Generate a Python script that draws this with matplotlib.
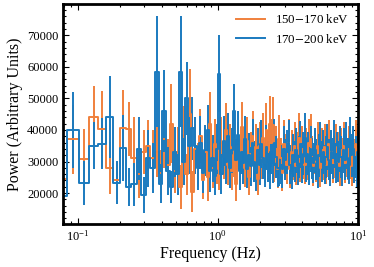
import numpy as np
import matplotlib
matplotlib.use('Agg')
import matplotlib.pyplot as plt
from matplotlib.lines import Line2D
from matplotlib.ticker import AutoMinorLocator

# log-rebinned frequency grid (Hz)
freq = [0.0743, 0.0926, 0.1113, 0.1303, 0.1497, 0.1695, 0.1897, 0.2103, 0.2313, 0.2527,
        0.2746, 0.2969, 0.3197, 0.3429, 0.3666, 0.3907, 0.4153, 0.4404, 0.4660, 0.4921,
        0.5188, 0.5460, 0.5737, 0.6020, 0.6309, 0.6603, 0.6903, 0.7209, 0.7521, 0.7840,
        0.8165, 0.8497, 0.8835, 0.9180, 0.9532, 0.9891, 1.0257, 1.0630, 1.1011, 1.1399,
        1.1795, 1.2199, 1.2611, 1.3032, 1.3461, 1.3898, 1.4344, 1.4799, 1.5263, 1.5737,
        1.6220, 1.6713, 1.7215, 1.7728, 1.8251, 1.8784, 1.9328, 1.9883, 2.0449, 2.1026,
        2.1615, 2.2215, 2.2828, 2.3452, 2.4090, 2.4740, 2.5403, 2.6079, 2.6769, 2.7472,
        2.8190, 2.8922, 2.9669, 3.0430, 3.1207, 3.2000, 3.2808, 3.3632, 3.4473, 3.5331,
        3.6206, 3.7098, 3.8009, 3.8937, 3.9884, 4.0850, 4.1836, 4.2841, 4.3866, 4.4912,
        4.5978, 4.7066, 4.8176, 4.9308, 5.0462, 5.1639, 5.2840, 5.4065, 5.5315, 5.6590,
        5.7890, 5.9216, 6.0569, 6.1949, 6.3356, 6.4792, 6.6256, 6.7750, 6.9273, 7.0827,
        7.2412, 7.4029, 7.5678, 7.7360, 7.9076, 8.0826, 8.2611, 8.4432, 8.6289, 8.8183,
        9.0115, 9.2086, 9.4096, 9.6146, 9.8237, 10.037]

# 150-170 keV, power and 1-sigma error (thousands)
power_lo = [24.4, 37.0, 30.7, 44.2, 40.2, 28.0, 24.0, 40.5, 40.3, 31.0,
            26.0, 33.0, 35.0, 31.0, 33.0, 26.5, 37.0, 29.0, 42.0, 27.0,
            33.0, 22.0, 38.5, 26.0, 45.0, 20.5, 34.0, 29.0, 38.0, 24.0,
            33.0, 25.0, 42.0, 28.0, 35.5, 30.0, 27.5, 36.0, 31.5, 40.0,
            29.0, 34.5, 27.0, 32.0, 23.0, 35.0, 30.5, 41.0, 33.0, 28.0,
            36.5, 25.0, 32.5, 38.0, 30.0, 34.5, 24.5, 35.0, 31.0, 37.5,
            29.5, 40.0, 33.0, 42.0, 36.0, 41.5, 30.0, 34.0, 27.5, 37.0,
            31.0, 26.5, 35.5, 32.0, 29.0, 36.0, 27.5, 33.0, 30.5, 35.0,
            28.5, 32.5, 37.5, 30.0, 34.0, 31.0, 29.0, 33.5, 30.5, 36.0,
            37.0, 31.5, 28.5, 33.0, 30.0, 35.0, 31.0, 28.0, 33.5, 30.5,
            34.5, 29.0, 32.0, 35.5, 30.0, 33.0, 29.5, 31.5, 34.5, 30.0,
            32.5, 28.5, 33.5, 31.0, 35.0, 29.5, 32.0, 30.5, 34.0, 31.0,
            28.5, 33.0, 30.5, 35.5, 32.5, 34.0]
err_lo = [7.3, 11.0, 9.5, 9.6, 12.0, 8.3, 6.0, 12.0, 8.5, 13.0,
          7.5, 7.0, 8.0, 9.0, 8.0, 7.0, 9.0, 8.0, 12.6, 7.0,
          8.0, 7.0, 9.0, 6.5, 14.4, 6.5, 8.0, 7.0, 8.5, 6.0,
          7.5, 7.4, 10.0, 6.5, 8.0, 7.0, 6.5, 8.0, 7.0, 8.5,
          6.5, 7.5, 6.0, 7.0, 5.5, 7.5, 6.5, 8.0, 7.0, 6.0,
          7.5, 5.5, 7.0, 8.0, 6.5, 7.3, 5.0, 7.5, 6.6, 8.0,
          6.3, 8.5, 7.0, 8.6, 7.6, 8.8, 6.4, 7.2, 5.8, 7.8,
          6.6, 5.7, 7.5, 6.8, 6.2, 7.6, 5.8, 7.0, 6.5, 7.4,
          6.0, 6.9, 8.0, 6.4, 7.2, 6.6, 6.2, 7.1, 6.5, 7.6,
          8.1, 6.7, 6.1, 7.0, 6.4, 7.4, 6.6, 6.0, 7.1, 6.5,
          7.3, 6.2, 6.8, 7.5, 6.4, 7.0, 6.3, 6.7, 7.3, 6.4,
          6.9, 6.1, 7.1, 6.6, 7.4, 6.3, 6.8, 6.5, 7.2, 6.6,
          6.1, 7.0, 6.5, 7.5, 6.9, 7.2]

# 170-200 keV
power_hi = [19.0, 40.0, 23.3, 35.0, 35.7, 44.0, 23.3, 34.2, 22.0, 22.8,
            34.0, 19.5, 31.0, 28.0, 58.5, 23.0, 46.0, 27.0, 22.0, 33.0,
            26.0, 58.5, 30.0, 50.0, 35.0, 40.5, 35.0, 28.0, 36.0, 26.5,
            33.5, 40.0, 27.0, 31.0, 25.5, 34.0, 57.8, 26.0, 36.5, 30.0,
            38.0, 28.0, 33.5, 46.0, 30.5, 38.5, 27.0, 33.0, 29.5, 37.0,
            27.5, 32.0, 28.5, 36.0, 30.0, 26.5, 33.5, 29.0, 35.5, 31.0,
            28.0, 34.5, 30.0, 27.0, 33.0, 29.5, 36.0, 31.5, 28.0, 28.0,
            29.0, 27.5, 34.0, 30.5, 33.0, 36.0, 29.0, 27.0, 32.0, 30.0,
            33.5, 28.5, 31.5, 35.5, 29.5, 32.5, 37.5, 30.0, 32.5, 28.5,
            34.0, 31.0, 29.5, 33.5, 30.5, 27.5, 32.0, 35.0, 30.0, 33.0,
            29.0, 31.5, 34.5, 30.5, 28.5, 33.0, 31.0, 35.5, 29.5, 32.5,
            30.0, 34.0, 31.5, 28.5, 33.5, 30.5, 35.0, 31.0, 29.0, 36.5,
            32.0, 34.0, 29.5, 31.5, 28.0, 33.0]
err_hi = [5.5, 12.0, 7.0, 7.5, 8.0, 13.0, 6.8, 10.5, 6.0, 6.8,
          10.0, 5.7, 9.0, 8.0, 17.5, 6.3, 13.0, 7.5, 5.0, 8.0,
          6.5, 17.5, 7.5, 11.5, 9.0, 10.0, 9.0, 7.0, 8.5, 6.5,
          8.0, 8.0, 6.5, 7.5, 6.0, 8.0, 12.2, 6.3, 8.0, 7.0,
          7.5, 6.5, 7.0, 8.6, 6.5, 7.5, 6.0, 7.0, 6.5, 7.5,
          6.0, 7.0, 6.2, 7.5, 6.5, 5.8, 7.0, 6.3, 7.5, 6.5,
          6.0, 7.2, 6.5, 5.8, 7.0, 6.3, 7.5, 6.7, 6.0, 5.8,
          6.2, 5.8, 7.2, 6.5, 7.0, 7.2, 6.2, 5.8, 6.8, 6.4,
          7.0, 6.0, 6.7, 7.4, 6.3, 6.9, 7.8, 6.4, 6.9, 6.0,
          7.2, 6.6, 6.3, 7.1, 6.5, 5.8, 6.8, 7.4, 6.4, 7.0,
          6.2, 6.7, 7.3, 6.5, 6.1, 7.0, 6.6, 7.5, 6.3, 6.9,
          6.4, 7.2, 6.7, 6.1, 7.1, 6.5, 7.4, 6.6, 6.2, 7.7,
          6.8, 7.2, 6.3, 6.7, 6.0, 7.0]

labels = ['150$-$170 keV', '170$-$200 keV']
colors = ['#f0803c', '#1a7abf']

plt.rcParams['font.family'] = 'serif'
plt.rcParams['font.serif'] = ['Liberation Serif', 'DejaVu Serif']
plt.rcParams['mathtext.fontset'] = 'stix'

fig = plt.figure(figsize=(3.74, 2.67), dpi=100)
ax = fig.add_axes([0.169, 0.161, 0.788, 0.824])

series = [(power_lo, err_lo), (power_hi, err_hi)]
for (p, e), color, lab in zip(series, colors, labels):
    ax.errorbar(freq, np.array(p) * 1000, yerr=np.array(e) * 1000,
                drawstyle='steps-mid', color=color, lw=1.4,
                elinewidth=1.4, capsize=0, label=lab)

ax.set_xscale('log')
ax.set_xlim(0.079, 10)
ax.set_ylim(10200, 79900)
ax.set_yticks([20000, 30000, 40000, 50000, 60000, 70000])
ax.yaxis.set_minor_locator(AutoMinorLocator(5))

ax.tick_params(which='both', direction='in', top=True, right=True,
               labelsize=9, width=0.8)
ax.tick_params(which='major', length=4)
ax.tick_params(which='minor', length=2)
for s in ax.spines.values():
    s.set_linewidth(2)

ax.set_xlabel('Frequency (Hz)', fontsize=11.5, labelpad=2)
ax.set_ylabel('Power (Arbitrary Units)', fontsize=11.5, labelpad=3)

handles = [Line2D([0], [0], color=c, lw=1.4) for c in colors]
ax.legend(handles, labels, loc='upper right', frameon=False,
          fontsize=9.3, handlelength=2.2, borderaxespad=0.3,
          labelspacing=0.5)

fig.savefig('out.png', dpi=100)
